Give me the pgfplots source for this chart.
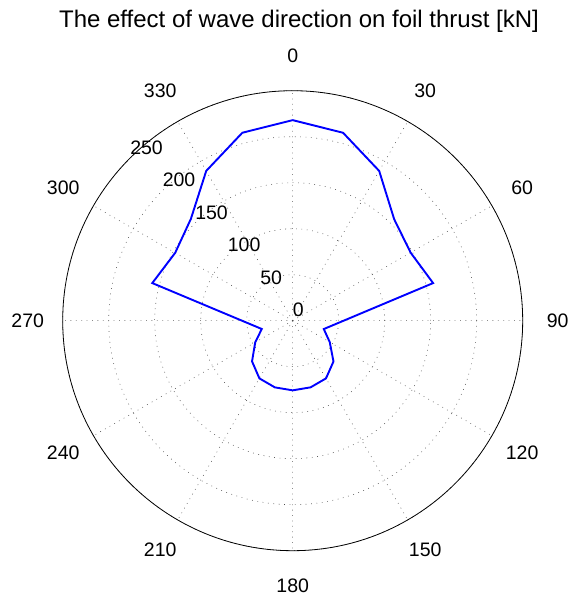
\documentclass[border=0pt]{standalone}
\usepackage{fontspec}
\setmainfont{Liberation Sans}
\usepackage{pgfplots}
\pgfplotsset{compat=1.18}
\usepgfplotslibrary{polar}
\usepackage{pgfplotstable}
\pgfplotstableread{
a r
0 218
15 211.5
30 188
45 156
60 148
75 158
105 35
120 46.5
135 62.7
150 72.4
165 75
180 75.7
195 75
210 72.4
225 62.5
240 47
255 34.8
285 158
300 147.5
315 156.5
330 188
345 211.5
360 218
}\thrust
\begin{document}
\begin{tikzpicture}
\path[use as bounding box] (-292.7bp,-275.3bp) rectangle (278.3bp,320.7bp);
\begin{polaraxis}[
  at={(0,0)}, anchor=center,
  width=460bp, height=460bp, scale only axis,
  xmin=0, xmax=360, ymin=0, ymax=250,
  xtick={0,30,...,330}, ytick={50,100,...,250},
  xticklabels={}, yticklabels={},
  major tick length=0pt,
  grid=major,
  major grid style={black!70, line width=0.55bp, dash pattern=on 0.8bp off 4.6bp},
  separate axis lines,
  x axis line style={black, line width=0.8bp},
  y axis line style={draw=none},
  clip=false,
  font=\fontsize{19.5bp}{22bp}\selectfont,
]
\addplot[blue, line width=1.9bp, no markers] table[x expr=90-\thisrow{a}, y=r] {\thrust};
\foreach \v in {0,50,100,150,200,250}{
  \edef\tmp{\noexpand\node[anchor=south west, inner sep=0pt, yshift=3.5bp] at (axis cs:135,\v) {\v};}
  \tmp
}
\node at (axis cs:90,288) {0};
\node at (axis cs:60,288) {30};
\node at (axis cs:30,288) {60};
\node at (axis cs:0,288) {90};
\node at (axis cs:-30,288) {120};
\node at (axis cs:-60,288) {150};
\node at (axis cs:-90,288) {180};
\node at (axis cs:-120,288) {210};
\node at (axis cs:-150,288) {240};
\node at (axis cs:-180,288) {270};
\node at (axis cs:-210,288) {300};
\node at (axis cs:-240,288) {330};
\end{polaraxis}
\node[anchor=base, inner sep=0pt, font=\fontsize{24bp}{27bp}\selectfont] at (6.3bp,293.4bp) {The effect of wave direction on foil thrust [kN]};
\end{tikzpicture}
\end{document}
